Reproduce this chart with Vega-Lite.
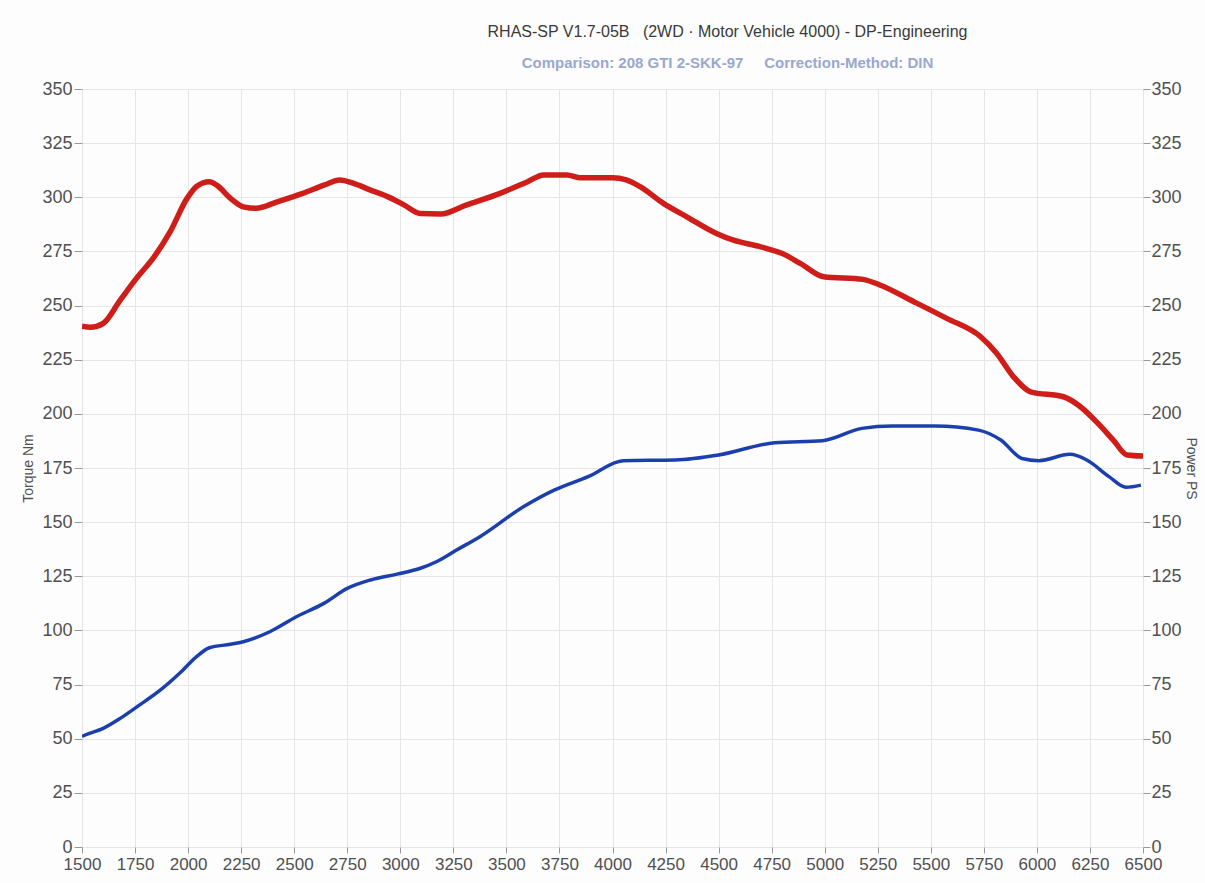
{
  "$schema": "https://vega.github.io/schema/vega-lite/v6.json",
  "width": 1061,
  "height": 758,
  "autosize": {"type": "none"},
  "padding": {"left": 82, "top": 89, "right": 62, "bottom": 36},
  "background": "#fdfdfd",
  "title": {
    "text": "RHAS-SP V1.7-05B\u00a0\u00a0\u00a0(2WD · Motor Vehicle 4000) - DP-Engineering",
    "subtitle": "Comparison: 208 GTI 2-SKK-97\u00a0\u00a0\u00a0\u00a0\u00a0Correction-Method: DIN",
    "anchor": "middle",
    "dx": 115,
    "offset": 9,
    "font": "Liberation Sans Narrow, Arial Narrow, Liberation Sans",
    "fontSize": 16,
    "fontWeight": "normal",
    "color": "#3a3a3a",
    "subtitleFont": "Liberation Sans Narrow, Arial Narrow, Liberation Sans",
    "subtitleFontSize": 15,
    "subtitleFontWeight": "bold",
    "subtitleColor": "#9aa8d0",
    "subtitlePadding": 16
  },
  "datasets": {
    "torque": [
      {"rpm": 1500, "nm": 240.5}, {"rpm": 1540, "nm": 240.0}, {"rpm": 1600, "nm": 241.8},
      {"rpm": 1680, "nm": 252.5}, {"rpm": 1760, "nm": 263.0}, {"rpm": 1840, "nm": 272.5},
      {"rpm": 1915, "nm": 284.0}, {"rpm": 1995, "nm": 299.5}, {"rpm": 2040, "nm": 305.0},
      {"rpm": 2100, "nm": 307.2}, {"rpm": 2135, "nm": 305.6}, {"rpm": 2200, "nm": 299.5},
      {"rpm": 2260, "nm": 295.6}, {"rpm": 2320, "nm": 294.9}, {"rpm": 2420, "nm": 297.9},
      {"rpm": 2540, "nm": 301.8}, {"rpm": 2640, "nm": 305.6}, {"rpm": 2715, "nm": 308.0},
      {"rpm": 2780, "nm": 306.4}, {"rpm": 2860, "nm": 303.3}, {"rpm": 2940, "nm": 300.3},
      {"rpm": 3015, "nm": 296.6}, {"rpm": 3095, "nm": 292.5}, {"rpm": 3190, "nm": 292.3},
      {"rpm": 3310, "nm": 296.4}, {"rpm": 3470, "nm": 301.8}, {"rpm": 3600, "nm": 307.2},
      {"rpm": 3675, "nm": 310.3}, {"rpm": 3785, "nm": 310.3}, {"rpm": 3850, "nm": 309.0},
      {"rpm": 4000, "nm": 309.0}, {"rpm": 4065, "nm": 308.0}, {"rpm": 4130, "nm": 304.9},
      {"rpm": 4240, "nm": 297.2}, {"rpm": 4350, "nm": 291.0}, {"rpm": 4490, "nm": 283.3},
      {"rpm": 4570, "nm": 280.2}, {"rpm": 4695, "nm": 277.2}, {"rpm": 4800, "nm": 274.0},
      {"rpm": 4885, "nm": 269.5}, {"rpm": 4995, "nm": 263.3}, {"rpm": 5180, "nm": 262.1},
      {"rpm": 5260, "nm": 259.5}, {"rpm": 5420, "nm": 251.8}, {"rpm": 5575, "nm": 244.1},
      {"rpm": 5735, "nm": 235.6}, {"rpm": 5810, "nm": 228.0}, {"rpm": 5890, "nm": 217.1},
      {"rpm": 5970, "nm": 210.2}, {"rpm": 6125, "nm": 207.9}, {"rpm": 6205, "nm": 203.3},
      {"rpm": 6280, "nm": 196.4}, {"rpm": 6360, "nm": 187.9}, {"rpm": 6425, "nm": 181.0},
      {"rpm": 6500, "nm": 180.5}
    ],
    "power": [
      {"rpm": 1500, "ps": 51.0}, {"rpm": 1515, "ps": 51.7}, {"rpm": 1600, "ps": 54.8},
      {"rpm": 1680, "ps": 59.4}, {"rpm": 1760, "ps": 64.8}, {"rpm": 1870, "ps": 72.5},
      {"rpm": 1960, "ps": 80.2}, {"rpm": 2040, "ps": 87.9}, {"rpm": 2100, "ps": 92.0},
      {"rpm": 2200, "ps": 93.6}, {"rpm": 2260, "ps": 94.8}, {"rpm": 2385, "ps": 99.4},
      {"rpm": 2510, "ps": 106.3}, {"rpm": 2640, "ps": 112.5}, {"rpm": 2750, "ps": 119.4},
      {"rpm": 2860, "ps": 123.3}, {"rpm": 2985, "ps": 126.0}, {"rpm": 3095, "ps": 128.7},
      {"rpm": 3170, "ps": 131.7}, {"rpm": 3265, "ps": 137.1}, {"rpm": 3375, "ps": 143.3},
      {"rpm": 3580, "ps": 157.1}, {"rpm": 3725, "ps": 164.8}, {"rpm": 3885, "ps": 171.0},
      {"rpm": 4050, "ps": 178.4}, {"rpm": 4295, "ps": 178.7}, {"rpm": 4500, "ps": 181.0},
      {"rpm": 4765, "ps": 186.7}, {"rpm": 4990, "ps": 187.6}, {"rpm": 5175, "ps": 193.3},
      {"rpm": 5320, "ps": 194.4}, {"rpm": 5520, "ps": 194.4}, {"rpm": 5725, "ps": 192.5},
      {"rpm": 5830, "ps": 187.9}, {"rpm": 5930, "ps": 179.4}, {"rpm": 6010, "ps": 178.4},
      {"rpm": 6155, "ps": 181.3}, {"rpm": 6235, "ps": 178.7}, {"rpm": 6340, "ps": 171.0},
      {"rpm": 6420, "ps": 166.1}, {"rpm": 6490, "ps": 167.1}
    ]
  },
  "config": {
    "view": {"stroke": null},
    "axis": {
      "labelFont": "Liberation Sans",
      "labelFontSize": 18,
      "labelColor": "#505050",
      "titleFont": "Liberation Sans",
      "titleFontSize": 14,
      "titleFontWeight": "normal",
      "titleColor": "#505050",
      "tickColor": "#9a9a9a",
      "gridColor": "#e6e6e6",
      "gridWidth": 1,
      "domain": false
    }
  },
  "layer": [
    {
      "data": {"name": "torque"},
      "mark": {"type": "line", "color": "#cf1d1a", "strokeWidth": 5.5, "interpolate": "monotone", "clip": true},
      "encoding": {
        "x": {
          "field": "rpm", "type": "quantitative",
          "scale": {"domain": [1500, 6500], "nice": false, "zero": false},
          "axis": {
            "title": null,
            "values": [1500, 1750, 2000, 2250, 2500, 2750, 3000, 3250, 3500, 3750, 4000, 4250, 4500, 4750, 5000, 5250, 5500, 5750, 6000, 6250, 6500],
            "format": "d",
            "grid": true,
            "tickSize": 6,
            "labelPadding": 3,
            "labelFontSize": 17,
            "labelFlush": false
          }
        },
        "y": {
          "field": "nm", "type": "quantitative",
          "scale": {"domain": [0, 350], "nice": false},
          "axis": {
            "title": "Torque Nm",
            "values": [0, 25, 50, 75, 100, 125, 150, 175, 200, 225, 250, 275, 300, 325, 350],
            "grid": true,
            "tickSize": 8,
            "labelPadding": 2,
            "titlePadding": 6,
            "labelFlush": false
          }
        }
      }
    },
    {
      "data": {"name": "power"},
      "mark": {"type": "line", "color": "#1c3fae", "strokeWidth": 3.5, "interpolate": "monotone", "clip": true},
      "encoding": {
        "x": {"field": "rpm", "type": "quantitative"},
        "y": {
          "field": "ps", "type": "quantitative",
          "scale": {"domain": [0, 350], "nice": false},
          "axis": {
            "orient": "right",
            "title": "Power PS",
            "values": [0, 25, 50, 75, 100, 125, 150, 175, 200, 225, 250, 275, 300, 325, 350],
            "grid": false,
            "tickSize": 7,
            "labelPadding": 1,
            "titlePadding": 2,
            "labelFlush": false
          }
        }
      }
    }
  ],
  "resolve": {"scale": {"y": "independent"}}
}
